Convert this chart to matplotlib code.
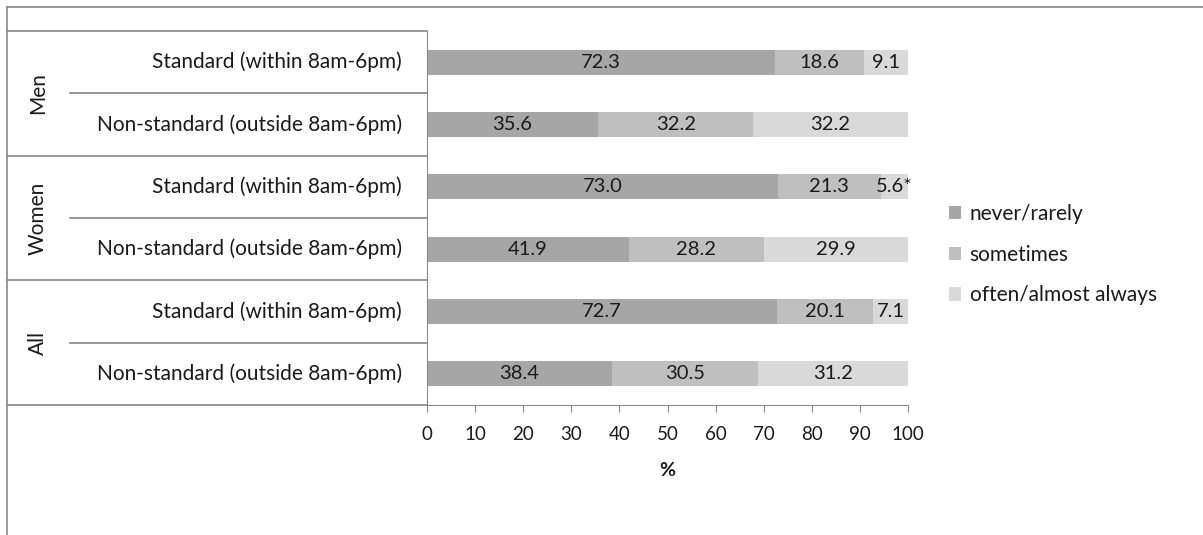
import matplotlib.pyplot as plt
from matplotlib.lines import Line2D
from matplotlib.patches import Patch

plt.rcParams['font.family'] = ['Lato', 'DejaVu Sans']

groups = ['Men', 'Women', 'All']
schedules = ['Standard (within 8am-6pm)', 'Non-standard (outside 8am-6pm)']
series = ['never/rarely', 'sometimes', 'often/almost always']
never = [72.3, 35.6, 73.0, 41.9, 72.7, 38.4]
sometimes = [18.6, 32.2, 21.3, 28.2, 20.1, 30.5]
often = [9.1, 32.2, 5.6, 29.9, 7.1, 31.2]
flagged = [[False] * 3, [False] * 3, [False, False, True],
           [False] * 3, [False] * 3, [False] * 3]
xticks = [0, 10, 20, 30, 40, 50, 60, 70, 80, 90, 100]

colors = ['#a6a6a6', '#bfbfbf', '#d9d9d9']
line_col = '#888888'
txt_col = '#1a1a1a'
fs = 15

W, H = 1203, 535
fig = plt.figure(figsize=(W / 100, H / 100), dpi=100)
ax = fig.add_axes([427 / W, 1 - 405 / H, (908 - 427) / W, (405 - 31) / H])

n = len(never)
ys = list(range(n))
left = [0] * n
for vals, col in zip([never, sometimes, often], colors):
    ax.barh(ys, vals, left=left, height=0.4, color=col)
    left = [a + b for a, b in zip(left, vals)]

# value labels
starts = [[0] * n, never, [a + b for a, b in zip(never, sometimes)]]
for k, vals in enumerate([never, sometimes, often]):
    for i, v in enumerate(vals):
        lab = f'{v:.1f}' + ('*' if flagged[i][k] else '')
        ax.text(starts[k][i] + v / 2, i, lab, ha='center', va='center',
                fontsize=14.5, color=txt_col)

ax.set_xlim(0, 100)
ax.set_ylim(n - 0.5, -0.5)
ax.set_xticks(xticks)
ax.set_xticklabels([str(t) for t in xticks], fontsize=13.5, color=txt_col)
ax.tick_params(axis='x', direction='out', length=5, color=line_col, pad=10)
ax.set_yticks([])
for s in ['top', 'right']:
    ax.spines[s].set_visible(False)
for s in ['left', 'bottom']:
    ax.spines[s].set_color(line_col)
ax.set_xlabel('%', fontsize=14, fontweight='bold', color=txt_col, labelpad=14)

# category table on the left
tr = ax.get_yaxis_transform()
x_outer = (7 - 427) / 481
x_inner = (70 - 427) / 481
for b in range(n + 1):
    x0 = x_outer if b % 2 == 0 else x_inner
    ax.plot([x0, 0], [b - 0.5, b - 0.5], transform=tr, color=line_col,
            lw=1.2, clip_on=False)
for i in range(n):
    ax.text(-0.052, i, schedules[i % 2], transform=tr, ha='right', va='center',
            fontsize=fs, color=txt_col)
for g, name in enumerate(groups):
    ax.text((38 - 427) / 481, 2 * g + 0.5, name, transform=tr, ha='center',
            va='center', rotation=90, fontsize=fs, color=txt_col)

# outer chart border (cropped)
fig.add_artist(Line2D([7 / W, 1], [1 - 7 / H, 1 - 7 / H], color=line_col, lw=1.2))
fig.add_artist(Line2D([7 / W, 7 / W], [0, 1 - 7 / H], color=line_col, lw=1.2))

handles = [Patch(facecolor=c) for c in colors]
fig.legend(handles, series, loc='upper left', bbox_to_anchor=(930 / W, 1 - 185 / H),
           frameon=False, fontsize=fs, handlelength=0.6, handleheight=0.6,
           handletextpad=0.4, labelspacing=1.0, labelcolor=txt_col)

fig.savefig('out.png', dpi=100)
